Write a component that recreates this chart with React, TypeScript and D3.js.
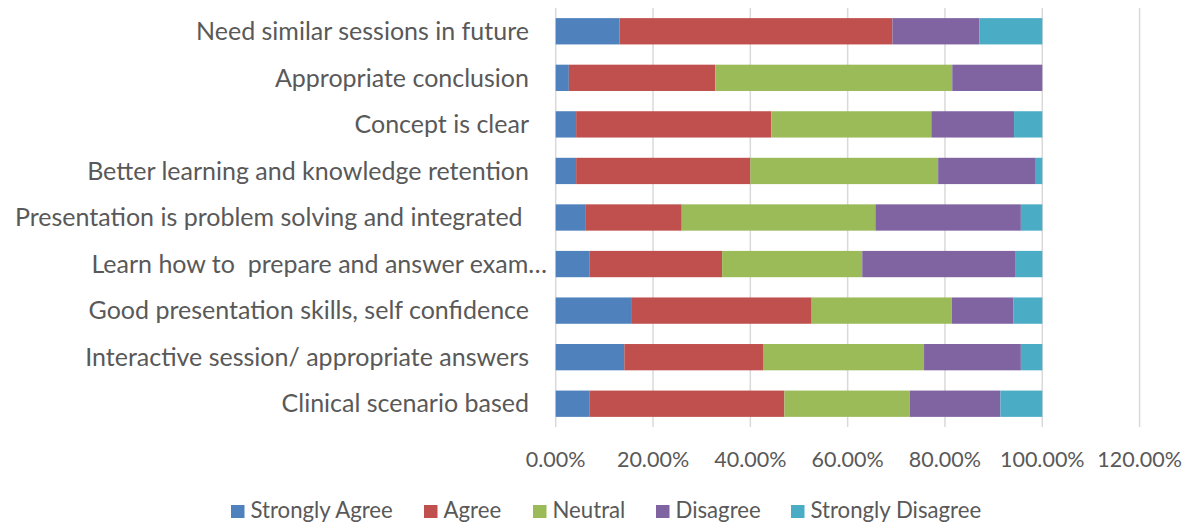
import React from "react";
import * as d3 from "d3";

const categories = [
  "Need similar sessions in future",
  "Appropriate conclusion",
  "Concept is clear",
  "Better learning and knowledge retention",
  "Presentation is problem solving and integrated ",
  "Learn how to  prepare and answer exam…",
  "Good presentation skills, self confidence",
  "Interactive session/ appropriate answers",
  "Clinical scenario based",
];

const seriesNames = ["Strongly Agree", "Agree", "Neutral", "Disagree", "Strongly Disagree"];

const stronglyAgree = [13.1, 2.7, 4.2, 4.2, 6.2, 6.9, 15.5, 14.1, 6.9];
const agree = [56.1, 30.1, 40.1, 35.8, 19.7, 27.3, 37.1, 28.5, 40.1];
const neutral = [0, 48.7, 32.9, 38.6, 39.8, 28.8, 28.8, 33.1, 25.8];
const disagree = [17.9, 18.5, 17.0, 19.9, 29.9, 31.4, 12.7, 19.9, 18.6];
const stronglyDisagree = [12.9, 0, 5.8, 1.5, 4.4, 5.6, 5.9, 4.4, 8.6];

const xTicks = [0, 20, 40, 60, 80, 100, 120];

const colors = ["#4F81BD", "#C0504D", "#9BBB59", "#8064A2", "#4BACC6"];
const legendX = [231, 424, 533, 656, 791];

const W = 1183;
const H = 522;
const FONT = "Lato, 'Open Sans', sans-serif";
const TEXT = "#595959";

export default function App() {
  const seriesValues = [stronglyAgree, agree, neutral, disagree, stronglyDisagree];
  const table = categories.map((c, i) => {
    const row: any = { cat: c };
    seriesNames.forEach((s, j) => (row[s] = seriesValues[j][i]));
    return row;
  });
  const stack = d3.stack<any>().keys(seriesNames)(table);

  const x = d3.scaleLinear().domain([0, 120]).range([555.7, 1139.6]);
  const y = d3
    .scaleBand<string>()
    .domain(categories)
    .range([8, 427])
    .paddingInner(0.435)
    .paddingOuter(0.2175);

  const fmt = (v: number) => v.toFixed(2) + "%";

  return (
    <svg
      width={W}
      height={H}
      style={{ position: "absolute", left: 0, top: 0, background: "#fff" }}
      fontFamily={FONT}
    >
      {xTicks.map((t) => (
        <line
          key={"g" + t}
          x1={x(t)}
          x2={x(t)}
          y1={8}
          y2={427}
          stroke="#d9d9d9"
          strokeWidth={1.5}
        />
      ))}
      {stack.map((layer, j) => (
        <g key={layer.key} fill={colors[j]}>
          {layer.map((d, i) => (
            <rect
              key={i}
              x={x(d[0])}
              y={y(categories[i])}
              width={Math.max(0, x(d[1]) - x(d[0]))}
              height={y.bandwidth()}
            />
          ))}
        </g>
      ))}
      {categories.map((c) => (
        <text
          key={c}
          x={c.includes("…") ? 547 : 529}
          y={(y(c) as number) + y.bandwidth() / 2}
          dy="0.35em"
          textAnchor="end"
          fontSize={25}
          fill={TEXT}
          style={{ whiteSpace: "pre" }}
        >
          {c}
        </text>
      ))}
      {xTicks.map((t) => (
        <text
          key={"t" + t}
          x={x(t)}
          y={467}
          textAnchor="middle"
          fontSize={21.5}
          fill={TEXT}
        >
          {fmt(t)}
        </text>
      ))}
      {seriesNames.map((s, j) => (
        <g key={s}>
          <rect x={legendX[j]} y={505} width={13.5} height={13} fill={colors[j]} />
          <text x={legendX[j] + 19.5} y={517.5} fontSize={22.2} fill={TEXT}>
            {s}
          </text>
        </g>
      ))}
    </svg>
  );
}
